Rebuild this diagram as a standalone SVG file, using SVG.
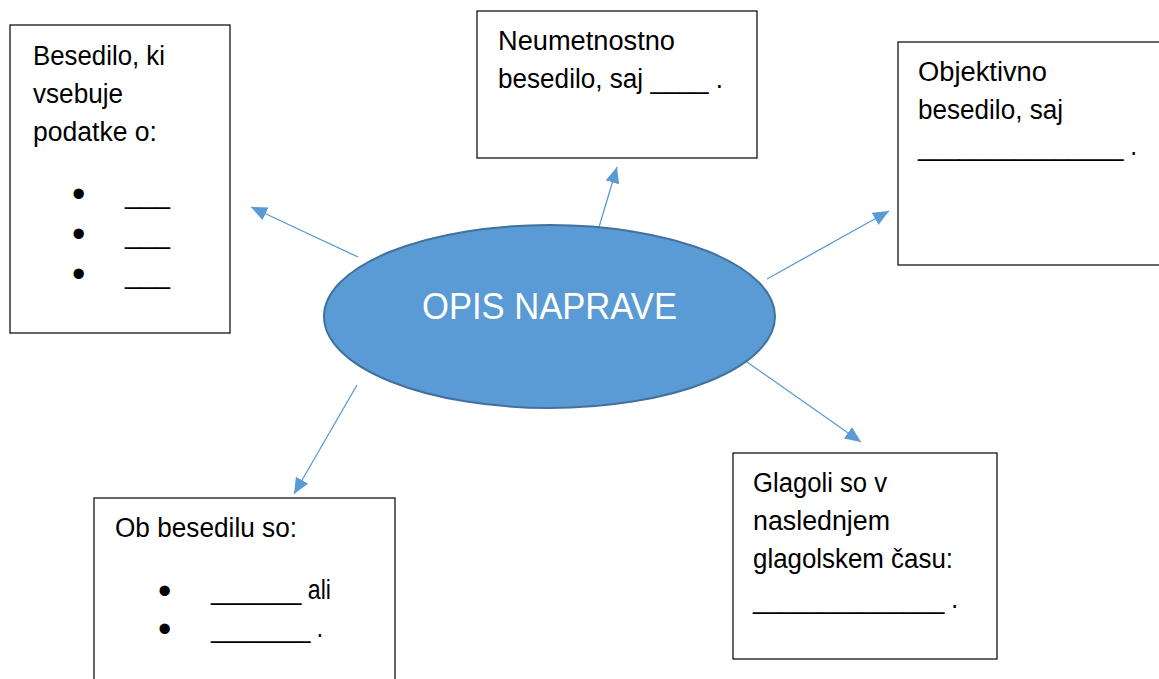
<svg xmlns="http://www.w3.org/2000/svg" width="1159" height="679" viewBox="0 0 1159 679">
<style>
.box{fill:#fff;stroke:#000;stroke-width:1.2}
.t{font-family:"Liberation Sans",Arial,sans-serif;font-size:27px;fill:#000}
.b{font-family:"Liberation Sans",Arial,sans-serif;font-size:38px;fill:#000}
.c{stroke:#5B9BD5;stroke-width:1.3;fill:none;marker-end:url(#ah)}
</style>
<defs>
<marker id="ah" markerUnits="userSpaceOnUse" markerWidth="18" markerHeight="16" refX="16" refY="7" orient="auto">
<path d="M0,0 L16,7 L0,14 Z" fill="#5B9BD5"/>
</marker>
</defs>
<rect width="1159" height="679" fill="#fff"/>
<g id="connectors">
<line class="c" x1="358" y1="257" x2="251" y2="207"/>
<line class="c" x1="599" y1="227" x2="617" y2="167"/>
<line class="c" x1="767" y1="279" x2="889" y2="211"/>
<line class="c" x1="357" y1="385" x2="294" y2="494"/>
<line class="c" x1="747" y1="362" x2="861" y2="442"/>
</g>
<g id="center">
<ellipse cx="549.5" cy="316.5" rx="225.5" ry="91.5" fill="#5B9BD5" stroke="#41719C" stroke-width="2"/>
<text x="422" y="319" font-family="Liberation Sans,Arial,sans-serif" font-size="36" fill="#fff" textLength="255" lengthAdjust="spacingAndGlyphs">OPIS NAPRAVE</text>
</g>
<g id="box-podatki">
<rect class="box" x="10" y="25" width="220" height="308"/>
<text class="t" x="33" y="65" textLength="132" lengthAdjust="spacingAndGlyphs">Besedilo, ki</text>
<text class="t" x="33" y="103" textLength="90" lengthAdjust="spacingAndGlyphs">vsebuje</text>
<text class="t" x="33" y="141" textLength="124" lengthAdjust="spacingAndGlyphs">podatke o:</text>
<text class="b" x="72" y="207">•</text>
<text class="b" x="72" y="247">•</text>
<text class="b" x="72" y="287">•</text>
<text class="t" x="125" y="203" textLength="45" lengthAdjust="spacingAndGlyphs">___</text>
<text class="t" x="125" y="243" textLength="45" lengthAdjust="spacingAndGlyphs">___</text>
<text class="t" x="125" y="283" textLength="45" lengthAdjust="spacingAndGlyphs">___</text>
</g>
<g id="box-neumetnostno">
<rect class="box" x="477" y="11" width="280" height="147"/>
<text class="t" x="498" y="50" textLength="177" lengthAdjust="spacingAndGlyphs">Neumetnostno</text>
<text class="t" x="498" y="88" textLength="225" lengthAdjust="spacingAndGlyphs">besedilo, saj ____ .</text>
</g>
<g id="box-objektivno">
<rect class="box" x="898" y="42" width="280" height="223"/>
<text class="t" x="918" y="81" textLength="129" lengthAdjust="spacingAndGlyphs">Objektivno</text>
<text class="t" x="918" y="119" textLength="145" lengthAdjust="spacingAndGlyphs">besedilo, saj</text>
<text class="t" x="918" y="155" textLength="219" lengthAdjust="spacingAndGlyphs">_______________ .</text>
</g>
<g id="box-ob-besedilu">
<rect class="box" x="94" y="498" width="301" height="200"/>
<text class="t" x="115" y="537" textLength="182" lengthAdjust="spacingAndGlyphs">Ob besedilu so:</text>
<text class="b" x="158" y="604">•</text>
<text class="b" x="158" y="642">•</text>
<text class="t" x="211" y="599" textLength="120" lengthAdjust="spacingAndGlyphs">_______ ali</text>
<text class="t" x="211" y="637" textLength="112" lengthAdjust="spacingAndGlyphs">________ .</text>
</g>
<g id="box-glagoli">
<rect class="box" x="733" y="453" width="264" height="206"/>
<text class="t" x="753" y="492" textLength="134" lengthAdjust="spacingAndGlyphs">Glagoli so v</text>
<text class="t" x="753" y="530" textLength="137" lengthAdjust="spacingAndGlyphs">naslednjem</text>
<text class="t" x="753" y="568" textLength="200" lengthAdjust="spacingAndGlyphs">glagolskem času:</text>
<text class="t" x="753" y="608" textLength="205" lengthAdjust="spacingAndGlyphs">______________ .</text>
</g>
</svg>
